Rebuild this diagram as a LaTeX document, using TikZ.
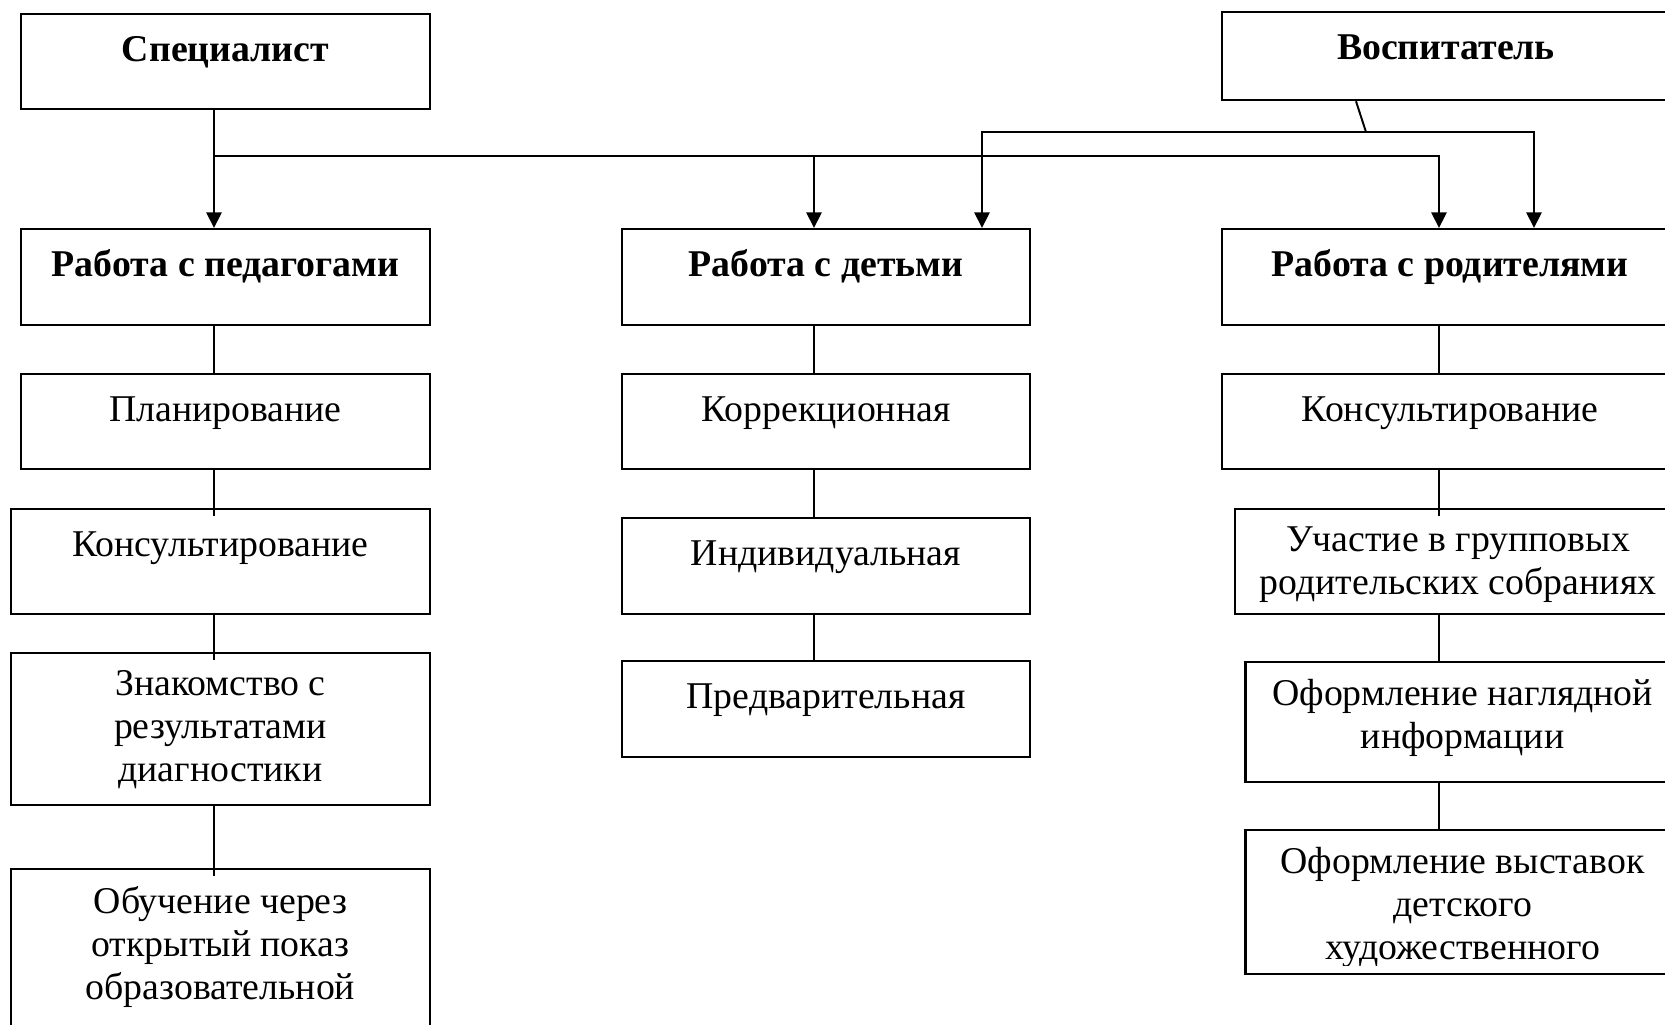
\documentclass[tikz,border=0pt]{standalone}
\usepackage{fontspec}
\setmainfont{Liberation Serif}
\usetikzlibrary{arrows.meta, calc}

\begin{document}
\begin{tikzpicture}[
        x=0.01cm, y=-0.01cm,
        box/.style={rectangle, draw, line width=0.65pt, inner sep=0pt, anchor=north},
        txt/.style={anchor=north, inner sep=0pt, align=center, font=\fontsize{10.75}{12.2}\selectfont, execute at begin node=\strut},
        conn/.style={line width=0.55pt},
        arr/.style={line width=0.65pt, -{Triangle[length=0.155cm, width=0.15cm]}}
    ]
    \useasboundingbox (0,0) rectangle (1665,1025);
    \fill[white] (0,0) rectangle (1665,1025);
    \clip (0,0) rectangle (1665,1025);

    % boxes: name / centre x / top / width / height / text
    \foreach \n/\cx/\t/\w/\h/\txt in {
        spec/225.5/13/409/95/{\bfseries Специалист},
        vosp/1446/11/448/88/{\bfseries Воспитатель},
        ped/225.5/228/409/96/{\bfseries Работа с педагогами},
        deti/826/228/408/96/{\bfseries Работа с детьми},
        rod/1450/228/456/96/{\bfseries Работа с родителями},
        plan/225.5/373/409/95/{Планирование},
        kons1/220.5/508/419/105/{Консультирование},
        znak/220.5/652/419/152/{Знакомство с\\результатами\\диагностики},
        obuch/220.5/868/419/250/{Обучение через\\открытый показ\\образовательной},
        korr/826/373/408/95/{Коррекционная},
        ind/826/517/408/96/{Индивидуальная},
        pred/826/660/408/96/{Предварительная},
        kons2/1450/373/456/95/{Консультирование},
        uch/1458/508/446/105/{Участие в групповых\\родительских собраниях},
        ofn/1462.6/661/434/120/{Оформление наглядной\\информации},
        ofv/1462.6/829/434/144/{Оформление выставок\\детского\\художественного}} {
        \node[box, minimum width=\w*0.01cm, minimum height=\h*0.01cm] (\n) at (\cx,\t) {};
        \begin{scope}
            \clip (\n.north west) rectangle ($(\n.south east)+(0,-10)$);
            \node[txt] (\n-t) at (\cx,{\t+18}) {\txt};
        \end{scope}
    }

    \coordinate (lcol) at (214,0);
    \coordinate (mcol) at (814,0);
    \coordinate (rcol) at (1439,0);
    \coordinate (sbus) at (214,156);
    \coordinate (vbus) at (1366,132);
    \coordinate (vtop) at (1356,0);
    \coordinate (darr) at (982,0);
    \coordinate (rarr) at (1534,0);

    % arrows from the two heads
    \draw[arr] (spec.south -| lcol) -- (ped.north -| lcol);
    \draw[arr] (sbus) -| (rod.north -| rcol);
    \draw[arr] (sbus -| mcol) -- (deti.north -| mcol);
    \draw[conn] (vosp.south -| vtop) -- (vbus);
    \draw[arr] (vbus) -| (deti.north -| darr);
    \draw[arr] (vbus) -| (rod.north -| rarr);

    % links inside the columns
    \foreach \a/\b/\c/\o in {ped/plan/lcol/0cm, plan/kons1/lcol/-0.08cm, kons1/znak/lcol/-0.08cm, znak/obuch/lcol/-0.08cm,
        deti/korr/mcol/0cm, korr/ind/mcol/0cm, ind/pred/mcol/0cm,
        rod/kons2/rcol/0cm, kons2/uch/rcol/-0.08cm, uch/ofn/rcol/0cm, ofn/ofv/rcol/0cm} {
        \draw[conn, shorten >=\o] (\a.south -| \c) -- (\b.north -| \c);
    }
\end{tikzpicture}
\end{document}
